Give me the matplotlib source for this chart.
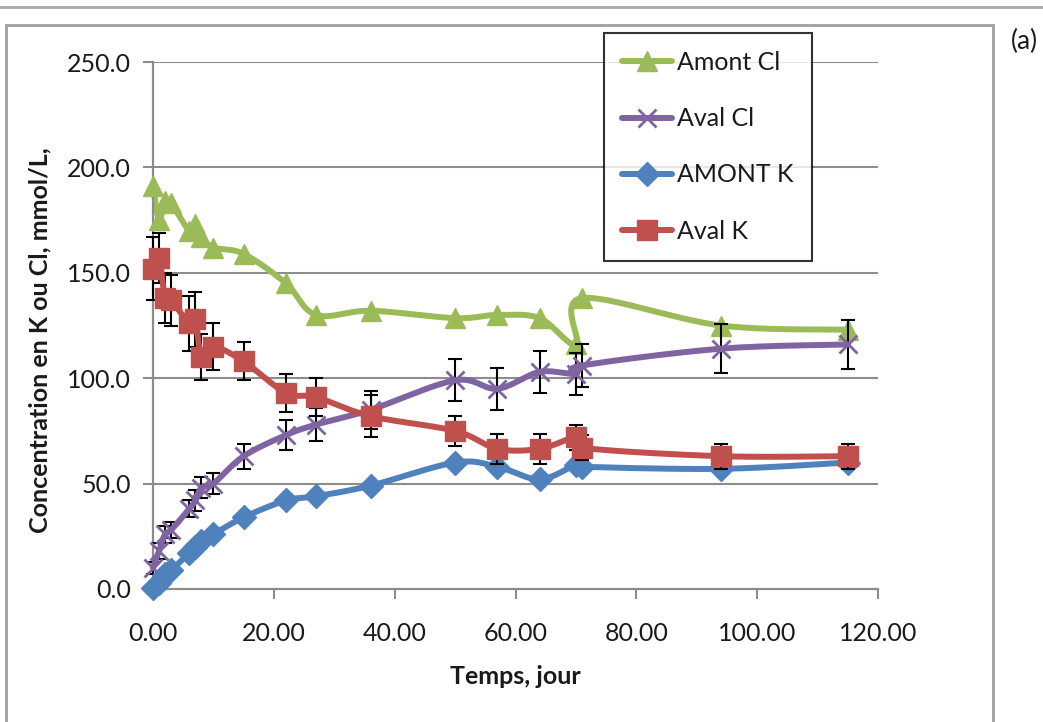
import numpy as np
import matplotlib
matplotlib.use("Agg")
import matplotlib.pyplot as plt
from matplotlib.lines import Line2D
from matplotlib.patches import Rectangle

plt.rcParams['font.family'] = ['Lato', 'DejaVu Sans']

# ---- data ----
days = [0, 1, 2, 3, 6, 7, 8, 10, 15, 22, 27, 36, 50, 57, 64, 70, 71, 94, 115]
amont_cl = [191, 175, 184, 183, 170, 173, 167, 162, 159, 145, 130, 132, 128.5, 130, 128.5, 116, 138, 125, 123]
aval_cl = [10, 18, 26, 28, 38, 42, 48, 50, 63, 73, 78, 85, 99, 95, 103, 102, 106, 114, 116]
aval_cl_err = [3, 4, 4, 4, 4, 5, 5, 5, 6, 7, 8, 9, 10, 10, 10, 10, 10, 11.5, 11.5]
amont_k = [0.5, 3, 7, 9, 17, 20, 23, 26, 34, 42, 44, 49, 60, 58, 52, 59, 58, 57, 60]
aval_k = [152, 157, 138, 137, 126, 128, 110, 115, 108, 93, 91, 82, 75, 66.5, 66.5, 72, 67, 63, 63]
aval_k_err = [15, 12, 12, 12, 13, 13, 11, 11, 9, 9, 9, 10, 7, 7, 7, 6, 6, 6, 6]

series_names = ["Amont Cl", "Aval Cl", "AMONT K", "Aval K"]
colors = ["#9BBB59", "#8064A2", "#4F81BD", "#C0504D"]

xticks = [0, 20, 40, 60, 80, 100, 120]
yticks = [0, 50, 100, 150, 200, 250]

W, H = 1043, 722
fig = plt.figure(figsize=(W / 100, H / 100), dpi=100)
ax = fig.add_axes([153 / W, 1 - 589 / H, (878 - 153) / W, (589 - 62) / H])
ax.set_xlim(0, 120)
ax.set_ylim(0, 250)

# scale factors (pixel per unit) for smoothing in display-like space
sx = (878 - 153) / 120.0
sy = (589 - 62) / 250.0


def smooth(xs, ys, n=24):
    P = np.column_stack([np.asarray(xs, float) * sx, np.asarray(ys, float) * sy])
    out = [P[0]]
    m = len(P)
    for i in range(m - 1):
        p0 = P[i - 1] if i > 0 else P[i]
        p1 = P[i]
        p2 = P[i + 1]
        p3 = P[i + 2] if i + 2 < m else P[i + 1]
        c1 = p1 + (p2 - p0) / 6.0
        c2 = p2 - (p3 - p1) / 6.0
        t = np.linspace(0, 1, n)[1:, None]
        seg = ((1 - t) ** 3) * p1 + 3 * ((1 - t) ** 2) * t * c1 + 3 * (1 - t) * t ** 2 * c2 + t ** 3 * p2
        out.extend(seg)
    out = np.array(out)
    return out[:, 0] / sx, out[:, 1] / sy


# grid & spines
for yv in yticks[1:]:
    ax.axhline(yv, color="#8C8C8C", lw=1.5, zorder=0)
for s in ["top", "right"]:
    ax.spines[s].set_visible(False)
for s in ["left", "bottom"]:
    ax.spines[s].set_color("#8C8C8C")
    ax.spines[s].set_linewidth(1.6)
ax.set_xticks(xticks)
ax.set_xticklabels([f"{v:.2f}" for v in xticks])
ax.set_yticks(yticks)
ax.set_yticklabels([f"{v:.1f}" for v in yticks])
ax.tick_params(axis="both", direction="out", length=7, width=1.5, color="#8C8C8C",
               labelsize=18, labelcolor="#1a1a1a")
ax.tick_params(axis="x", pad=17)
ax.tick_params(axis="y", pad=9)

data = [amont_cl, aval_cl, amont_k, aval_k]
errs = [None, aval_cl_err, None, aval_k_err]
markers = ["^", "x", "D", "s"]
msizes = [14, 13, 12, 14]

z = 2
for name, ys, er, col, mk, ms in zip(series_names, data, errs, colors, markers, msizes):
    if er is not None:
        ax.errorbar(days, ys, yerr=er, fmt="none", ecolor="black", elinewidth=1.5,
                    capsize=5, capthick=1.5, zorder=z, clip_on=False)
    xs_s, ys_s = smooth(days, ys)
    ax.plot(xs_s, ys_s, color=col, lw=4.3, zorder=z + 0.5, solid_capstyle="round", clip_on=False)
    if mk == "x":
        ax.plot(days, ys, ls="none", marker=mk, ms=ms, mew=2, color=col, zorder=z + 0.7, clip_on=False)
    else:
        ax.plot(days, ys, ls="none", marker=mk, ms=ms, mec=col, mfc=col, color=col,
                zorder=z + 0.7, clip_on=False)
    z += 1

ax.set_xlabel("Temps, jour", fontsize=18, fontweight="bold", labelpad=14, color="#1a1a1a")
ax.set_ylabel("Concentration en K ou Cl, mmol/L,", fontsize=18, fontweight="bold",
              color="#1a1a1a")
ax.yaxis.set_label_coords(-102 / (878 - 153), 0.472)

# legend
handles = []
for name, col, mk, ms in zip(series_names, colors, markers, msizes):
    if mk == "x":
        handles.append(Line2D([], [], color=col, lw=4.3, marker=mk, ms=ms, mew=2,
                              solid_capstyle="round"))
    else:
        handles.append(Line2D([], [], color=col, lw=4.3, marker=mk, ms=ms,
                              mec=col, mfc=col, solid_capstyle="round"))
leg = fig.legend(handles, series_names, loc="upper left",
                 bbox_to_anchor=(604 / W, 1 - 33 / H), borderaxespad=0, numpoints=1,
                 prop={"size": 18}, frameon=True, fancybox=False, handlelength=2.0,
                 handletextpad=0.2, labelspacing=1.33, borderpad=0.72)
leg.get_frame().set_edgecolor("black")
leg.get_frame().set_linewidth(1.5)
for t in leg.get_texts():
    t.set_color("#1a1a1a")

# outer frame and top rule
fig.add_artist(Rectangle((6 / W, -0.01), (993 - 6) / W, (1 - 25 / H) + 0.01,
                         transform=fig.transFigure, fill=False, ec="#A0A0A0", lw=2))
fig.add_artist(Line2D([0, 1], [1 - 7 / H, 1 - 7 / H], transform=fig.transFigure,
                      color="#A8A8A8", lw=2))
fig.text(1024 / W, 1 - 41 / H, "(a)", fontsize=19, ha="center", va="center", color="#1a1a1a")

fig.savefig("out.png", dpi=100)
